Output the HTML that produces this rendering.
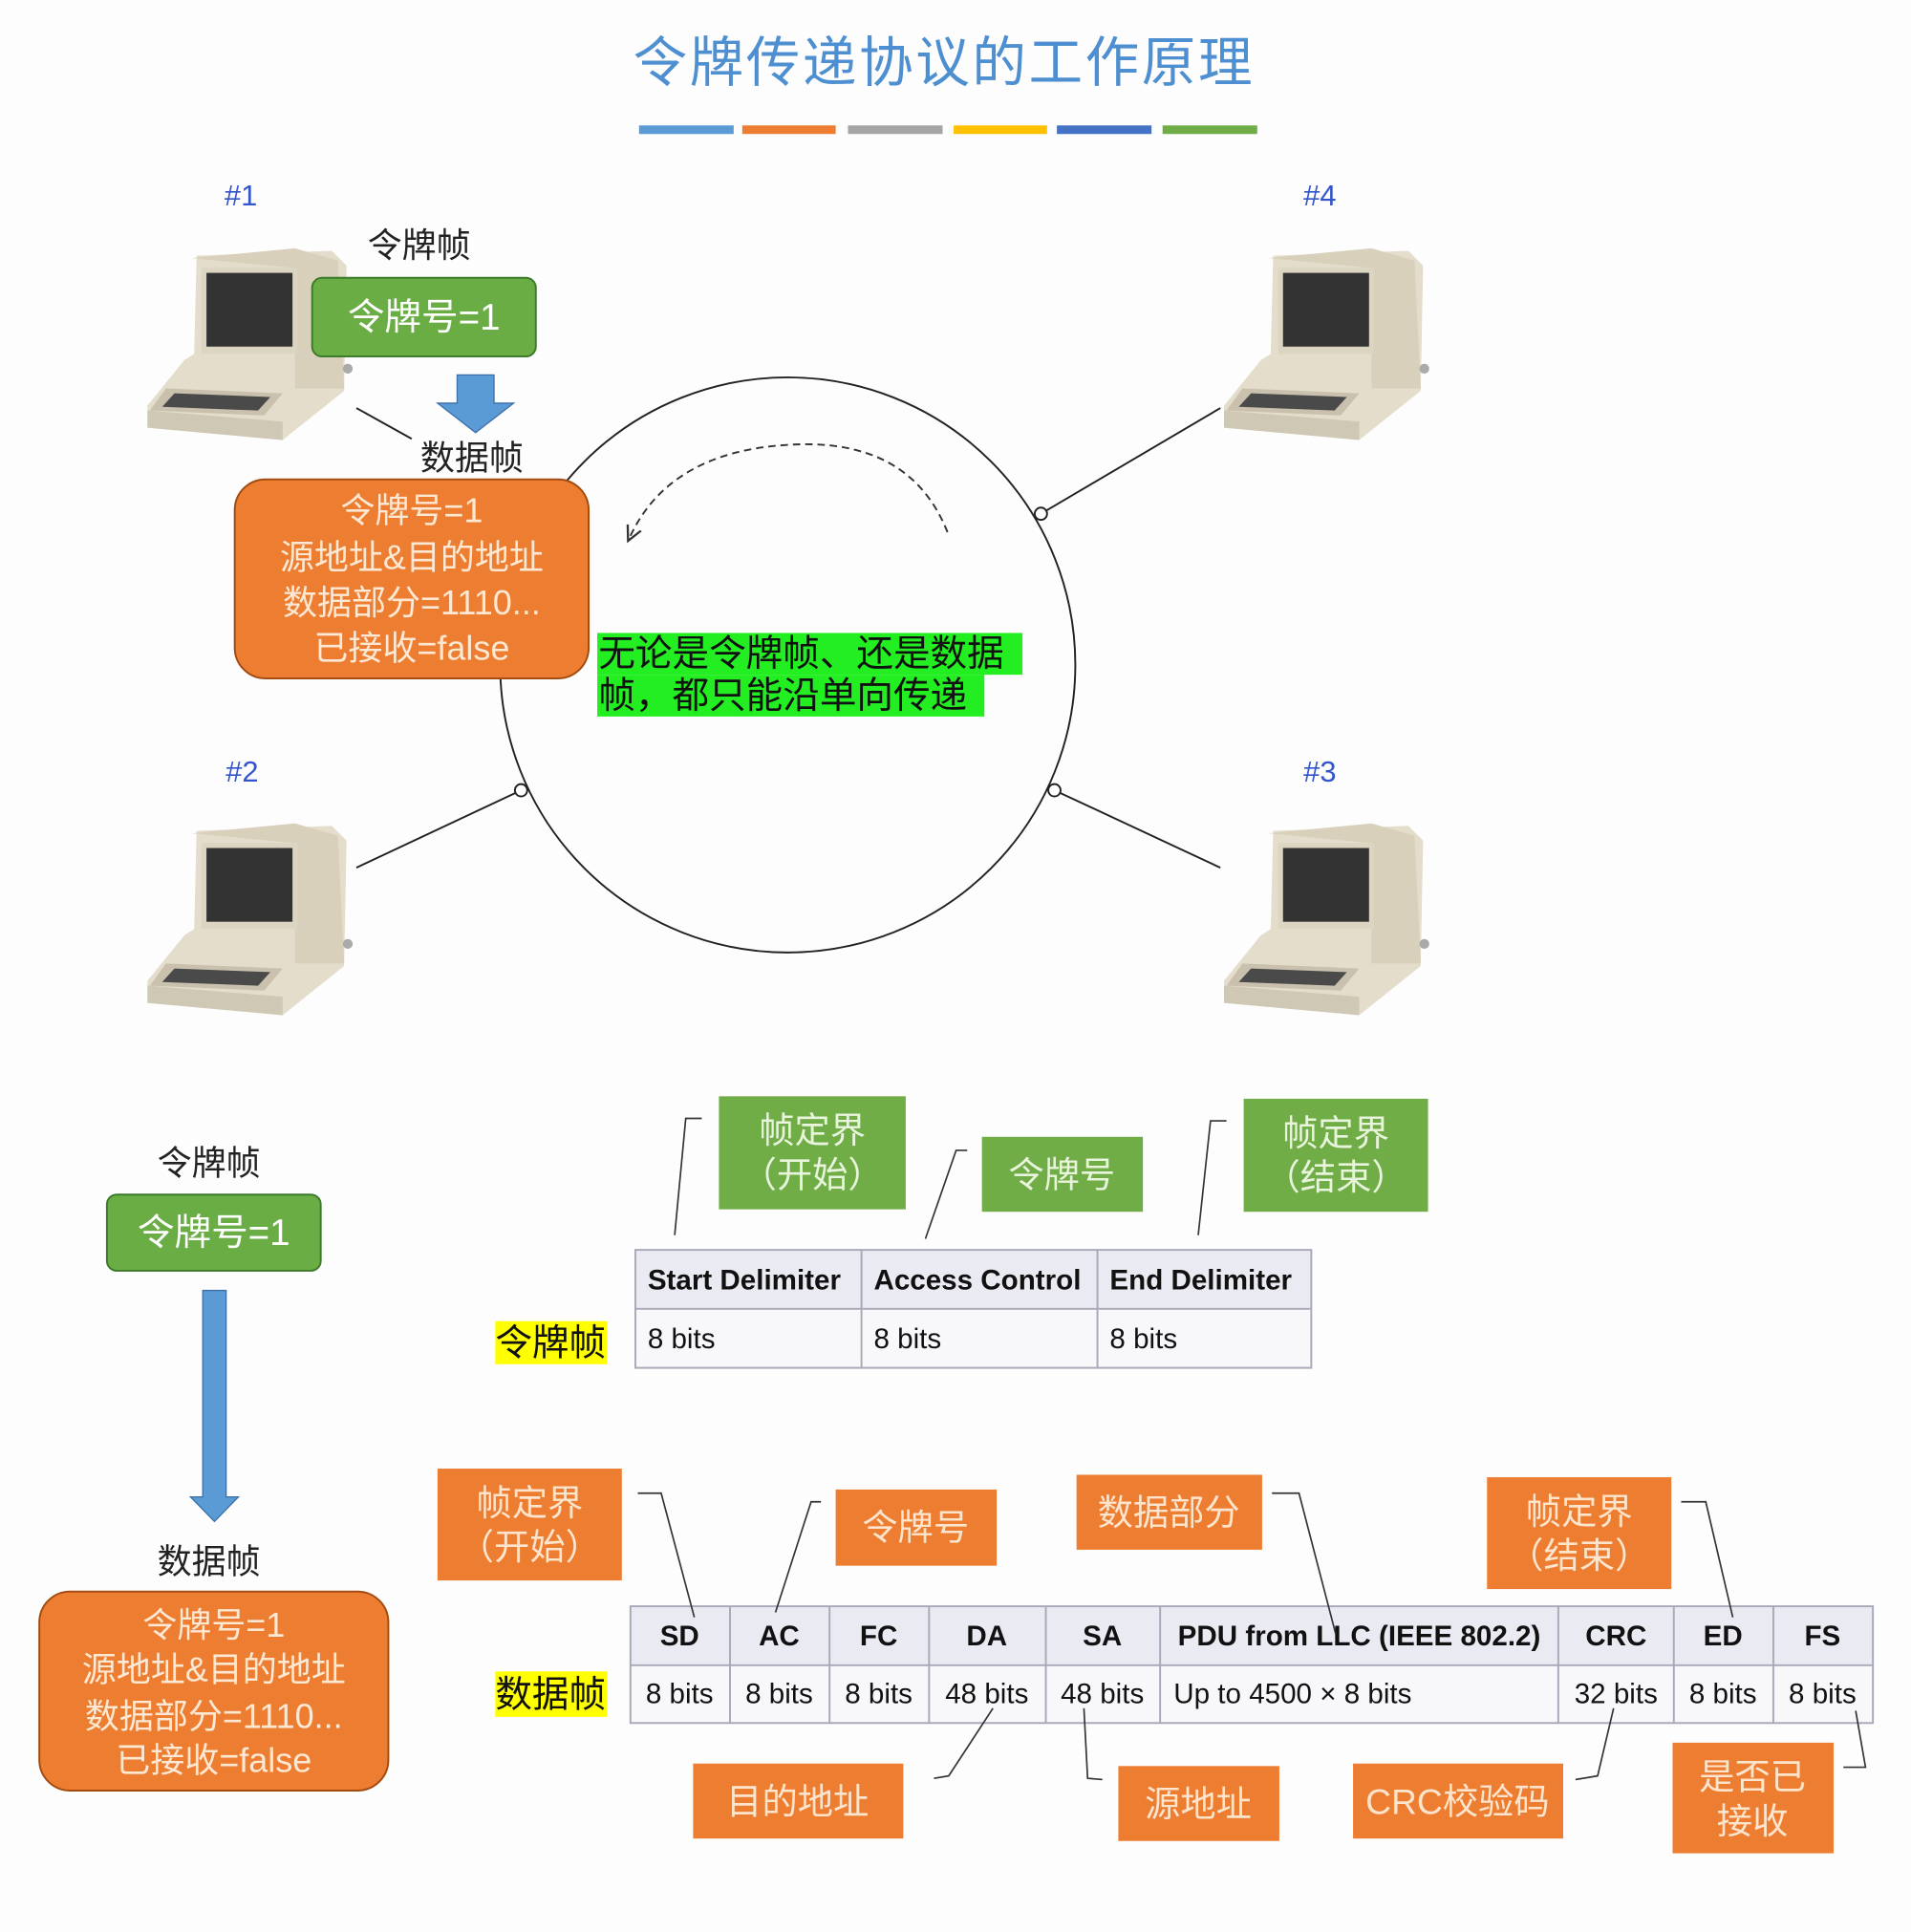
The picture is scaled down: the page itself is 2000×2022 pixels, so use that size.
<!DOCTYPE html>
<html><head><meta charset="utf-8">
<style>
html,body{margin:0;padding:0;background:#fdfdfe;}
svg{display:block;}
text{font-family:"Liberation Sans","Noto Sans CJK SC",sans-serif;}
</style></head><body>
<svg width="2000" height="2022" viewBox="0 0 1555 1572" xmlns="http://www.w3.org/2000/svg">
<defs>
<g id="pc">
  <path d="M40 10 L150 6 L162 18 L160 120 L110 160 L0 150 L0 132 L30 95 L38 90 Z" fill="#e4ddcb"/>
  <path d="M36 12 L120 4 L155 14 L160 118 L120 118 L120 20 Z" fill="#d8d0bb"/>
  <rect x="44" y="20" width="78" height="70" fill="#dcd5c2"/>
  <rect x="48" y="24" width="70" height="60" fill="#333"/>
  <path d="M15 118 L110 122 L95 140 L2 136 Z" fill="#c9c1ad"/>
  <path d="M22 122 L100 125 L90 136 L12 133 Z" fill="#4a4a4a"/>
  <path d="M0 150 L110 160 L110 145 L0 136 Z" fill="#cfc8b4"/>
  <circle cx="163" cy="102" r="4" fill="#aaa"/>
</g>
<marker id="ah" markerWidth="10" markerHeight="10" refX="5" refY="5" orient="auto"><path d="M0 1 L8 5 L0 9" fill="none" stroke="#333" stroke-width="1.2"/></marker>
</defs>

<text x="768" y="66" font-size="44" fill="#4d8fd0" text-anchor="middle" letter-spacing="2">令牌传递协议的工作原理</text>
<rect x="520" y="102" width="77" height="7" fill="#5b9bd5"/>
<rect x="604" y="102" width="76" height="7" fill="#ed7d31"/>
<rect x="690" y="102" width="77" height="7" fill="#a5a5a5"/>
<rect x="776" y="102" width="76" height="7" fill="#ffc000"/>
<rect x="860" y="102" width="77" height="7" fill="#4472c4"/>
<rect x="946" y="102" width="77" height="7" fill="#70ad47"/>

<circle cx="641" cy="541" r="234" fill="none" stroke="#222" stroke-width="1.5"/>
<g stroke="#222" stroke-width="1.5" fill="none">
<line x1="290" y1="332" x2="335" y2="357"/>
<line x1="847" y1="418" x2="993" y2="332"/>
<line x1="424" y1="643" x2="290" y2="706"/>
<line x1="858" y1="643" x2="993" y2="706"/>
</g>
<g fill="#fff" stroke="#222" stroke-width="1.5">
<circle cx="847" cy="418" r="5"/><circle cx="424" cy="643" r="5"/><circle cx="858" cy="643" r="5"/>
</g>
<path d="M771 433 Q740 355 640 362 Q545 368 513 436" fill="none" stroke="#333" stroke-width="1.5" stroke-dasharray="6,4" marker-end="url(#ah)"/>

<use href="#pc" x="120" y="198"/>
<use href="#pc" x="996" y="198"/>
<use href="#pc" x="120" y="666"/>
<use href="#pc" x="996" y="666"/>

<g font-size="24" fill="#3355cc" text-anchor="middle">
<text x="196" y="167">#1</text><text x="1074" y="167">#4</text>
<text x="197" y="636">#2</text><text x="1074" y="636">#3</text>
</g>

<text x="341" y="209" font-size="28" text-anchor="middle" fill="#222">令牌帧</text>
<rect x="254" y="226" width="182" height="64" rx="8" fill="#6aad45" stroke="#3a7a2a" stroke-width="1.5"/>
<text x="345" y="268" font-size="30" text-anchor="middle" fill="#fff">令牌号=1</text>
<path d="M372 305 H402 V328 H418 L387 352 L356 328 H372 Z" fill="#5b9bd5" stroke="#3b6fa8" stroke-width="1"/>
<text x="384" y="382" font-size="28" text-anchor="middle" fill="#222">数据帧</text>
<rect x="191" y="390" width="288" height="162" rx="25" fill="#ed7d31" stroke="#a04a10" stroke-width="1.5"/>
<g font-size="28" text-anchor="middle" fill="#fde8d4">
<text x="335" y="425">令牌号=1</text>
<text x="335" y="463">源地址&amp;目的地址</text>
<text x="335" y="500">数据部分=1110...</text>
<text x="335" y="537">已接收=false</text>
</g>
<rect x="486" y="515" width="346" height="34" fill="#22ee22"/>
<rect x="486" y="549" width="315" height="34" fill="#22ee22"/>
<text x="487" y="542" font-size="30" fill="#111" font-family="Liberation Serif,Noto Serif CJK SC,serif">无论是令牌帧、还是数据</text>
<text x="487" y="576" font-size="30" fill="#111" font-family="Liberation Serif,Noto Serif CJK SC,serif">帧，都只能沿单向传递</text>

<!-- bottom left -->
<text x="170" y="956" font-size="28" text-anchor="middle" fill="#222">令牌帧</text>
<rect x="87" y="972" width="174" height="62" rx="8" fill="#6aad45" stroke="#3a7a2a" stroke-width="1.5"/>
<text x="174" y="1013" font-size="30" text-anchor="middle" fill="#fff">令牌号=1</text>
<path d="M165 1050 H184 V1218 H194 L174.5 1238 L155 1218 H165 Z" fill="#5b9bd5" stroke="#3b6fa8" stroke-width="1"/>
<text x="170" y="1280" font-size="28" text-anchor="middle" fill="#222">数据帧</text>
<rect x="32" y="1295" width="284" height="162" rx="25" fill="#ed7d31" stroke="#a04a10" stroke-width="1.5"/>
<g font-size="28" text-anchor="middle" fill="#fde8d4">
<text x="174" y="1332">令牌号=1</text>
<text x="174" y="1368">源地址&amp;目的地址</text>
<text x="174" y="1406">数据部分=1110...</text>
<text x="174" y="1442">已接收=false</text>
</g>

<!-- token table -->
<rect x="517" y="1017" width="550" height="48" fill="#eaeaf2"/>
<rect x="517" y="1065" width="550" height="48" fill="#f8f8fb"/>
<g stroke="#a8a8b8" stroke-width="1.5" fill="none">
<rect x="517" y="1017" width="550" height="96"/>
<line x1="517" y1="1065" x2="1067" y2="1065"/>
<line x1="701" y1="1017" x2="701" y2="1113"/>
<line x1="893" y1="1017" x2="893" y2="1113"/>
</g>
<g font-size="23" fill="#111">
<text x="527" y="1049" font-weight="bold">Start Delimiter</text>
<text x="711" y="1049" font-weight="bold">Access Control</text>
<text x="903" y="1049" font-weight="bold">End Delimiter</text>
<text x="527" y="1097">8 bits</text><text x="711" y="1097">8 bits</text><text x="903" y="1097">8 bits</text>
</g>
<rect x="403" y="1075" width="91" height="35" fill="#ffff00"/>
<text x="448" y="1103" font-size="30" text-anchor="middle" fill="#111">令牌帧</text>

<g fill="#70ad47">
<rect x="585" y="892" width="152" height="92"/>
<rect x="799" y="925" width="131" height="61"/>
<rect x="1012" y="894" width="150" height="92"/>
</g>
<g font-size="29" fill="#e8f4dc" text-anchor="middle">
<text x="661" y="930">帧定界</text><text x="661" y="966">（开始）</text>
<text x="864" y="966">令牌号</text>
<text x="1087" y="932">帧定界</text><text x="1087" y="968">（结束）</text>
</g>
<g stroke="#333" stroke-width="1.3" fill="none">
<polyline points="549,1005 558,910 571,910"/>
<polyline points="753,1008 778,936 787,936"/>
<polyline points="975,1005 985,912 998,912"/>
</g>

<!-- data table -->
<rect x="513" y="1307" width="1011" height="48" fill="#eaeaf2"/>
<rect x="513" y="1355" width="1011" height="47" fill="#f8f8fb"/>
<g stroke="#a8a8b8" stroke-width="1.5" fill="none">
<rect x="513" y="1307" width="1011" height="95"/>
<line x1="513" y1="1355" x2="1524" y2="1355"/>
<line x1="594" y1="1307" x2="594" y2="1402"/>
<line x1="675" y1="1307" x2="675" y2="1402"/>
<line x1="756" y1="1307" x2="756" y2="1402"/>
<line x1="851" y1="1307" x2="851" y2="1402"/>
<line x1="944" y1="1307" x2="944" y2="1402"/>
<line x1="1268" y1="1307" x2="1268" y2="1402"/>
<line x1="1362" y1="1307" x2="1362" y2="1402"/>
<line x1="1443" y1="1307" x2="1443" y2="1402"/>
</g>
<g font-size="23" fill="#111" text-anchor="middle">
<text x="553" y="1339" font-weight="bold">SD</text>
<text x="634" y="1339" font-weight="bold">AC</text>
<text x="715" y="1339" font-weight="bold">FC</text>
<text x="803" y="1339" font-weight="bold">DA</text>
<text x="897" y="1339" font-weight="bold">SA</text>
<text x="1106" y="1339" font-weight="bold">PDU from LLC (IEEE 802.2)</text>
<text x="1315" y="1339" font-weight="bold">CRC</text>
<text x="1402" y="1339" font-weight="bold">ED</text>
<text x="1483" y="1339" font-weight="bold">FS</text>
<text x="553" y="1386">8 bits</text>
<text x="634" y="1386">8 bits</text>
<text x="715" y="1386">8 bits</text>
<text x="803" y="1386">48 bits</text>
<text x="897" y="1386">48 bits</text>
<text x="955" y="1386" text-anchor="start">Up to 4500 × 8 bits</text>
<text x="1315" y="1386">32 bits</text>
<text x="1402" y="1386">8 bits</text>
<text x="1483" y="1386">8 bits</text>
</g>
<rect x="403" y="1360" width="91" height="37" fill="#ffff00"/>
<text x="448" y="1389" font-size="30" text-anchor="middle" fill="#111">数据帧</text>

<g fill="#ed7d31">
<rect x="356" y="1195" width="150" height="91"/>
<rect x="680" y="1212" width="131" height="62"/>
<rect x="876" y="1200" width="151" height="61"/>
<rect x="1210" y="1202" width="150" height="91"/>
<rect x="564" y="1435" width="171" height="61"/>
<rect x="910" y="1437" width="131" height="61"/>
<rect x="1101" y="1435" width="171" height="61"/>
<rect x="1361" y="1418" width="131" height="90"/>
</g>
<g font-size="29" fill="#fde4cc" text-anchor="middle">
<text x="431" y="1233">帧定界</text><text x="431" y="1269">（开始）</text>
<text x="745" y="1253">令牌号</text>
<text x="951" y="1241">数据部分</text>
<text x="1285" y="1240">帧定界</text><text x="1285" y="1276">（结束）</text>
<text x="649" y="1476">目的地址</text>
<text x="975" y="1478">源地址</text>
<text x="1186" y="1476">CRC校验码</text>
<text x="1426" y="1456">是否已</text><text x="1426" y="1492">接收</text>
</g>
<g stroke="#333" stroke-width="1.3" fill="none">
<polyline points="519,1215 538,1215 565,1316"/>
<polyline points="668,1222 660,1222 631,1312"/>
<polyline points="1035,1215 1057,1215 1087,1330"/>
<polyline points="1368,1222 1388,1222 1410,1316"/>
<polyline points="808,1390 772,1445 760,1447"/>
<polyline points="882,1390 885,1447 897,1448"/>
<polyline points="1313,1390 1300,1445 1282,1448"/>
<polyline points="1510,1392 1518,1438 1500,1438"/>
</g>
</svg>
</body></html>
